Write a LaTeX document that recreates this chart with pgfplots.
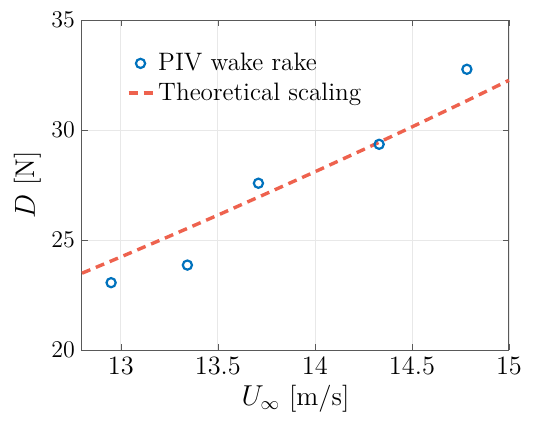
\documentclass[border=0pt]{standalone}
\usepackage{pgfplots}
\pgfplotsset{compat=1.18}

\definecolor{pivblue}{rgb}{0.0,0.447,0.741}
\definecolor{theored}{RGB}{238,98,78}

\begin{document}
\begin{tikzpicture}
\begin{axis}[
    scale only axis,
    width=213.5pt, height=165pt,
    xmin=12.8, xmax=15,
    ymin=20, ymax=35,
    xtick={13,13.5,14,14.5,15},
    ytick={20,25,30,35},
    xticklabels={13,13.5,14,14.5,15},
    grid=major,
    major grid style={gray!18, line width=0.4pt},
    axis line style={gray!70!black, line width=0.5pt},
    tick style={gray!70!black},
    tick align=inside,
    major tick length=3pt,
    ticklabel style={font=\fontsize{13.2}{15}\selectfont},
    xlabel={$U_\infty$ [m/s]},
    ylabel={$D$ [N]},
    label style={font=\fontsize{13.5}{16}\selectfont},
    xlabel style={yshift=2pt},
    ylabel style={yshift=-2pt},
    legend style={at={(0.09,0.925)}, anchor=north west, draw=none, fill=none,
        font=\fontsize{12.6}{15}\selectfont, row sep=0.5pt,
        legend cell align=left},
    clip=false,
]
\addplot[only marks, mark=o, mark size=2.3pt, draw=pivblue, line width=1.1pt,
    legend image code/.code={\draw[pivblue, line width=1.1pt] (6pt,0) circle (2.3pt);}]
  coordinates {(12.95,23.06) (13.343,23.86) (13.709,27.58) (14.331,29.35) (14.783,32.76)};
\addlegendentry{PIV wake rake}
\addplot[theored, line width=1.7pt, dash pattern=on 4.5pt off 3pt,
    legend image code/.code={\draw[theored, line width=1.7pt, dash pattern=on 4.5pt off 3pt] (0pt,0) -- (12pt,0);}]
  coordinates {(12.8,23.49) (13.0,24.23) (13.25,25.17) (13.5,26.13) (13.75,27.11) (14.0,28.10) (14.25,29.11) (14.5,30.14) (14.75,31.19) (15.0,32.26)};
\addlegendentry{Theoretical scaling}
\end{axis}
\pgfresetboundingbox
\path (current axis.south west) ++(-41pt,-36.5pt) rectangle ++(276pt,211.5pt);
\end{tikzpicture}
\end{document}
